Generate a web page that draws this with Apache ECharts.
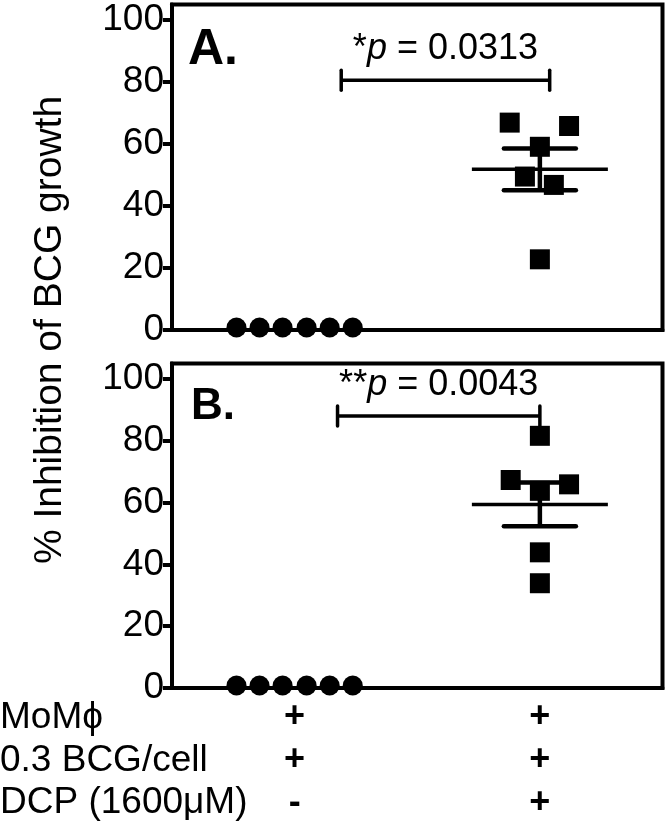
<!DOCTYPE html>
<html>
<head>
<meta charset="utf-8">
<script src="https://cdn.jsdelivr.net/npm/echarts@6.0.0/dist/echarts.min.js"></script>
<style>
html, body { margin: 0; padding: 0; background: #fff; }
#chart { width: 666px; height: 827px; }
</style>
</head>
<body>
<div id="chart"></div>
<script>
// ---- data ----
var rowLabels = ['MoMϕ', '0.3 BCG/cell', 'DCP (1600μM)'];
var groupSigns = ['+\n+\n-', '+\n+\n+'];
var yTicks = [0, 20, 40, 60, 80, 100];

// panel A: % inhibition of BCG growth
var ctrlA = [0.8, 0.8, 0.8, 0.8, 0.8, 0.8];
var dcpA = [66.9, 65.8, 59.1, 49.5, 46.8, 22.8];
// panel B
var ctrlB = [0.8, 0.8, 0.8, 0.8, 0.8, 0.8];
var dcpB = [81.6, 67.3, 65.9, 63.8, 43.9, 33.9];

// significance annotations
var starsA = '*', pValA = '0.0313';
var starsB = '**', pValB = '0.0043';
var bracketA = [0.19, 1.04, 80.6];   // x from, x to (category units), y
var bracketB = [0.175, 1.0, 88.0];

// ---- layout (jitter of points within a group, in category widths) ----
var ctrlJitter = [-0.237, -0.143, -0.049, 0.049, 0.143, 0.237];
var jitterA = [-0.123, 0.119, 0, -0.061, 0.057, 0];
var jitterB = [0, -0.119, 0.119, 0, 0, 0];

var FONT = 'Liberation Sans, Arial, Helvetica, sans-serif';

function mean(a) {
  var s = 0;
  a.forEach(function (v) { s += v; });
  return s / a.length;
}
function sem(a) {
  var m = mean(a), s = 0;
  a.forEach(function (v) { s += (v - m) * (v - m); });
  return Math.sqrt(s / (a.length - 1)) / Math.sqrt(a.length);
}
function points(idx, vals, jit) {
  return vals.map(function (v, i) { return [idx + jit[i], v]; });
}

function ln(x1, y1, x2, y2, w, cap) {
  return {
    type: 'line',
    shape: { x1: x1, y1: y1, x2: x2, y2: y2 },
    style: { stroke: '#000', lineWidth: w, lineCap: cap || 'butt' }
  };
}

function renderErr(params, api) {
  var x = api.value(0);
  var c = api.coord([x, api.value(1)]);
  var lo = api.coord([x, api.value(2)]);
  var hi = api.coord([x, api.value(3)]);
  return {
    type: 'group',
    children: [
      ln(c[0] - 68, c[1], c[0] + 68, c[1], 3.5),
      ln(c[0], lo[1], c[0], hi[1], 4.5),
      ln(c[0] - 36, hi[1], c[0] + 36, hi[1], 4.5, 'round'),
      ln(c[0] - 36, lo[1], c[0] + 36, lo[1], 4.5, 'round')
    ]
  };
}

function makeBracket(stars, pval) {
  return function (params, api) {
    var a = api.coord([api.value(0), api.value(2)]);
    var b = api.coord([api.value(1), api.value(2)]);
    return {
      type: 'group',
      children: [
        ln(a[0], a[1], b[0], b[1], 3.5),
        ln(a[0], a[1] - 10, a[0], a[1] + 10, 3.5, 'round'),
        ln(b[0], b[1] - 10, b[0], b[1] + 10, 3.5, 'round'),
        {
          type: 'text',
          style: {
            text: '{n|' + stars + '}{i|p}{n| = ' + pval + '}',
            x: (a[0] + b[0]) / 2,
            y: a[1] - 31,
            align: 'center', verticalAlign: 'middle',
            textAlign: 'center', textVerticalAlign: 'middle',
            fill: '#000',
            rich: {
              n: { fontSize: 36, fontFamily: FONT, color: '#000' },
              i: { fontSize: 36, fontFamily: FONT, fontStyle: 'italic', color: '#000' }
            }
          }
        }
      ]
    };
  };
}

function catAxis(grid, showLabels) {
  return {
    type: 'category',
    gridIndex: grid,
    data: groupSigns,
    boundaryGap: true,
    axisLine: { onZero: false, lineStyle: { color: '#000', width: 4 } },
    axisTick: { alignWithLabel: true, length: 9, lineStyle: { color: '#000', width: 4 } },
    axisLabel: {
      show: showLabels, interval: 0, margin: 8,
      fontSize: 36, fontWeight: 'bold', lineHeight: 43,
      fontFamily: FONT, color: '#000'
    },
    splitLine: { show: false }
  };
}
function valXAxis(grid) {
  return { type: 'value', gridIndex: grid, min: -0.5, max: 1.5, show: false };
}
function yAxis(grid) {
  return {
    type: 'value',
    gridIndex: grid,
    min: 0, max: 105,
    axisLine: { show: true, onZero: false, lineStyle: { color: '#000', width: 4 } },
    axisTick: { show: true, customValues: yTicks, length: 9, lineStyle: { color: '#000', width: 4 } },
    axisLabel: { customValues: yTicks, margin: 8, fontSize: 37, fontFamily: FONT, color: '#000' },
    splitLine: { show: false }
  };
}

function panelSeries(xVal, yIdx, ctrl, dcp, jit, bracket, stars, pval) {
  var dot = { color: '#000', opacity: 1 };
  return [
    {
      type: 'custom', xAxisIndex: xVal, yAxisIndex: yIdx, z: 2,
      renderItem: makeBracket(stars, pval),
      data: [bracket]
    },
    {
      type: 'custom', xAxisIndex: xVal, yAxisIndex: yIdx, z: 2,
      renderItem: renderErr,
      data: [[1, mean(dcp), mean(dcp) - sem(dcp), mean(dcp) + sem(dcp)]]
    },
    {
      type: 'scatter', xAxisIndex: xVal, yAxisIndex: yIdx, z: 3,
      symbol: 'circle', symbolSize: 20,
      itemStyle: dot, emphasis: { disabled: true },
      data: points(0, ctrl, ctrlJitter)
    },
    {
      type: 'scatter', xAxisIndex: xVal, yAxisIndex: yIdx, z: 3,
      symbol: 'rect', symbolSize: 20,
      itemStyle: dot, emphasis: { disabled: true },
      data: points(1, dcp, jit)
    }
  ];
}

function label(text, x, y, font) {
  return {
    type: 'text', x: x, y: y,
    style: { text: text, font: font, fill: '#000',
      textAlign: 'left', textVerticalAlign: 'middle', align: 'left', verticalAlign: 'middle' }
  };
}

var chart = echarts.init(document.getElementById('chart'));
chart.setOption({
  animation: false,
  backgroundColor: '#fff',
  grid: [
    { left: 172, right: 3.5, top: 4.5, height: 325.5, show: true, borderColor: '#000', borderWidth: 4 },
    { left: 172, right: 3.5, top: 363.5, height: 324.5, show: true, borderColor: '#000', borderWidth: 4 }
  ],
  xAxis: [catAxis(0, false), valXAxis(0), catAxis(1, true), valXAxis(1)],
  yAxis: [yAxis(0), yAxis(1)],
  graphic: [
    {
      type: 'text', x: 50, y: 330, rotation: Math.PI / 2,
      style: { text: '% Inhibition of BCG growth', font: '39px ' + FONT, fill: '#000',
        textAlign: 'center', textVerticalAlign: 'middle', align: 'center', verticalAlign: 'middle' }
    },
    label('A.', 188, 50, 'bold 50px ' + FONT),
    label('B.', 191, 407, 'bold 44px ' + FONT),
    label(rowLabels[0], 0, 717.5, '37px ' + FONT),
    label(rowLabels[1], 0, 760.5, '37px ' + FONT),
    label(rowLabels[2], 0, 802.5, '37px ' + FONT)
  ],
  series: []
    .concat(panelSeries(1, 0, ctrlA, dcpA, jitterA, bracketA, starsA, pValA))
    .concat(panelSeries(3, 1, ctrlB, dcpB, jitterB, bracketB, starsB, pValB))
});
</script>
</body>
</html>
